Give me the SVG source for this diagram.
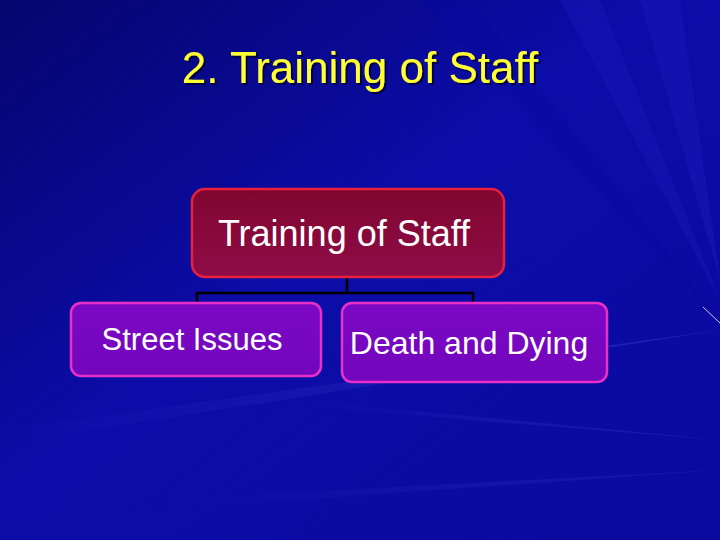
<svg xmlns="http://www.w3.org/2000/svg" width="720" height="540" viewBox="0 0 720 540">
<defs>
<linearGradient id="bg" x1="0" y1="0" x2="1" y2="1">
<stop offset="0" stop-color="#05056e"/>
<stop offset="0.45" stop-color="#0c0ca8"/>
<stop offset="1" stop-color="#0a0aa0"/>
</linearGradient>
<linearGradient id="ray" x1="1" y1="0" x2="0" y2="0">
<stop offset="0" stop-color="#4a5ae0" stop-opacity="0.5"/>
<stop offset="1" stop-color="#4a5ae0" stop-opacity="0"/>
</linearGradient>
<linearGradient id="redg" x1="0" y1="0" x2="0" y2="1">
<stop offset="0" stop-color="#80062e"/>
<stop offset="1" stop-color="#8e0c48"/>
</linearGradient>
<linearGradient id="purg" x1="0" y1="0" x2="0" y2="1">
<stop offset="0" stop-color="#7c08c4"/>
<stop offset="1" stop-color="#7206bc"/>
</linearGradient>
<filter id="sh" x="-5%" y="-5%" width="110%" height="120%">
<feDropShadow dx="2" dy="2" stdDeviation="0.6" flood-color="#000030" flood-opacity="0.8"/>
</filter>
</defs>
<style>
.lbl{font-family:"Liberation Sans",Arial,sans-serif;fill:#ffffff}
.parent{fill:url(#redg);stroke:#e8203c;stroke-width:2.5}
.child{fill:url(#purg);stroke:#e830c8;stroke-width:2.5}
.conn{fill:none;stroke:#000000;stroke-width:2.5}
</style>
<rect width="720" height="540" fill="url(#bg)"/>
<g id="background-rays">
<polygon points="720,330 0,430 0,445" fill="url(#ray)" opacity="0.6"/>
<polygon points="720,440 300,400 300,406" fill="url(#ray)" opacity="0.5"/>
<polygon points="720,470 150,500 150,510" fill="url(#ray)" opacity="0.35"/>
<polygon points="720,300 560,0 600,0" fill="#1a1ab8" opacity="0.4"/>
<polygon points="720,280 640,0 680,0" fill="#2020c0" opacity="0.35"/>
<polygon points="720,320 420,0 470,0" fill="#0606a0" opacity="0.3"/>
<line x1="703" y1="307" x2="720" y2="323" stroke="#d8c8f0" stroke-width="1"/>
</g>
<text x="360" y="83" text-anchor="middle" font-family="Liberation Sans, Arial, sans-serif" font-size="44" fill="#ffff33" filter="url(#sh)">2. Training of Staff</text>
<g id="connectors">
<path class="conn" d="M347,278 V293 M197,304 V293 H473 V304"/>
</g>
<g id="node-training">
<rect class="parent" x="192" y="189" width="312" height="88" rx="13"/>
<text class="lbl" x="344" y="246" text-anchor="middle" font-size="36">Training of Staff</text>
</g>
<g id="node-street">
<rect class="child" x="71" y="303" width="250" height="73" rx="10"/>
<text class="lbl" x="192" y="350" text-anchor="middle" font-size="31">Street Issues</text>
</g>
<g id="node-death">
<rect class="child" x="342" y="303" width="265" height="79" rx="10"/>
<text class="lbl" x="469" y="354" text-anchor="middle" font-size="32">Death and Dying</text>
</g>
</svg>
